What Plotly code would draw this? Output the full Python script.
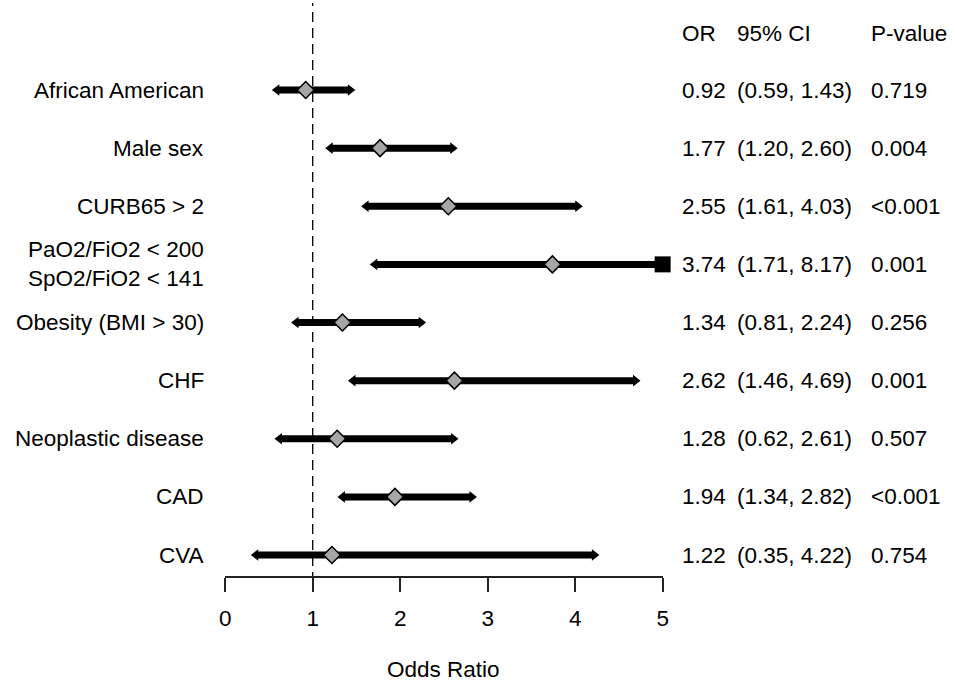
import plotly.graph_objects as go

labels = ["African American", "Male sex", "CURB65 > 2", "PaO2/FiO2 < 200<br>SpO2/FiO2 < 141",
          "Obesity (BMI > 30)", "CHF", "Neoplastic disease", "CAD", "CVA"]
odds = [0.92, 1.77, 2.55, 3.74, 1.34, 2.62, 1.28, 1.94, 1.22]
ci_low = [0.59, 1.20, 1.61, 1.71, 0.81, 1.46, 0.62, 1.34, 0.35]
ci_high = [1.43, 2.60, 4.03, 8.17, 2.24, 4.69, 2.61, 2.82, 4.22]
p_values = ["0.719", "0.004", "<0.001", "0.001", "0.256", "0.001", "0.507", "<0.001", "0.754"]
x_ticks = [0, 1, 2, 3, 4, 5]
x_max = 5

W, H = 955, 684
FONT = "Liberation Sans, Arial, sans-serif"
FS = 22.5

ax_px = 576
row0, step = 90, 58.125
y_top = -row0 / step
y_bot = y_top + ax_px / step

fig = go.Figure()

rows = list(range(len(labels)))
for i in rows:
    lo = ci_low[i]
    hi = min(ci_high[i], x_max)
    fig.add_trace(go.Scatter(x=[lo, hi], y=[i, i], mode="lines",
                             line=dict(color="black", width=7), cliponaxis=False,
                             hoverinfo="skip", showlegend=False))
    fig.add_trace(go.Scatter(x=[lo], y=[i], mode="markers",
                             marker=dict(symbol="triangle-left", size=10, color="black",
                                         line=dict(width=0)),
                             cliponaxis=False, hoverinfo="skip", showlegend=False))
    if ci_high[i] > x_max:
        fig.add_trace(go.Scatter(x=[hi], y=[i], mode="markers",
                                 marker=dict(symbol="square", size=16, color="black",
                                             line=dict(width=0)),
                                 cliponaxis=False, hoverinfo="skip", showlegend=False))
    else:
        fig.add_trace(go.Scatter(x=[hi], y=[i], mode="markers",
                                 marker=dict(symbol="triangle-right", size=10, color="black",
                                             line=dict(width=0)),
                                 cliponaxis=False, hoverinfo="skip", showlegend=False))

fig.add_trace(go.Scatter(x=odds, y=rows, mode="markers",
                         marker=dict(symbol="diamond", size=13, color="#A6A6A6",
                                     line=dict(color="black", width=1.5)),
                         cliponaxis=False, showlegend=False))

# reference line at OR = 1
fig.add_shape(type="line", xref="x", yref="paper", x0=1, x1=1,
              y0=(H - 582) / H, y1=(H - 3) / H,
              line=dict(color="black", width=1.3, dash="10px,6px"), layer="below")

annotations = []
for i, lab in enumerate(labels):
    annotations.append(dict(x=203 / W, xref="paper", y=i, yref="y", text=lab,
                            xanchor="right", yanchor="middle", showarrow=False, align="center",
                            font=dict(family=FONT, size=FS, color="black")))
    annotations.append(dict(x=683 / W, xref="paper", y=i, yref="y", text=f"{odds[i]:.2f}",
                            xanchor="left", yanchor="middle", showarrow=False,
                            font=dict(family=FONT, size=FS, color="black")))
    annotations.append(dict(x=738 / W, xref="paper", y=i, yref="y",
                            text=f"({ci_low[i]:.2f}, {ci_high[i]:.2f})",
                            xanchor="left", yanchor="middle", showarrow=False,
                            font=dict(family=FONT, size=FS, color="black")))
    annotations.append(dict(x=874 / W, xref="paper", y=i, yref="y", text=p_values[i],
                            xanchor="left", yanchor="middle", showarrow=False,
                            font=dict(family=FONT, size=FS, color="black")))

hdr_y = (H - 34) / H
for txt, xp in [("OR", 683), ("95% CI", 738), ("P-value", 874)]:
    annotations.append(dict(x=xp / W, xref="paper", y=hdr_y, yref="paper", text=txt,
                            xanchor="left", yanchor="middle", showarrow=False,
                            font=dict(family=FONT, size=FS, color="black")))

annotations.append(dict(x=2.5, xref="x", y=1.5 / H, yref="paper", text="Odds Ratio",
                        xanchor="center", yanchor="bottom", showarrow=False, borderpad=0,
                        font=dict(family=FONT, size=FS, color="black")))

fig.update_layout(
    width=W, height=H,
    margin=dict(l=0, r=0, t=0, b=0),
    plot_bgcolor="white", paper_bgcolor="white",
    annotations=annotations,
    xaxis=dict(domain=[222 / W, 665 / W], range=[0, x_max], tickvals=x_ticks,
               showgrid=False, zeroline=False, showline=True, linecolor="#222",
               linewidth=1.5, ticks="outside", ticklen=14, tickwidth=1.5, tickcolor="#222",
               ticklabelstandoff=7,
               tickfont=dict(family=FONT, size=FS, color="black")),
    yaxis=dict(domain=[(H - ax_px) / H, 1], range=[y_bot, y_top], showgrid=False,
               zeroline=False, showticklabels=False, showline=False),
)

fig.write_html("out.html")
